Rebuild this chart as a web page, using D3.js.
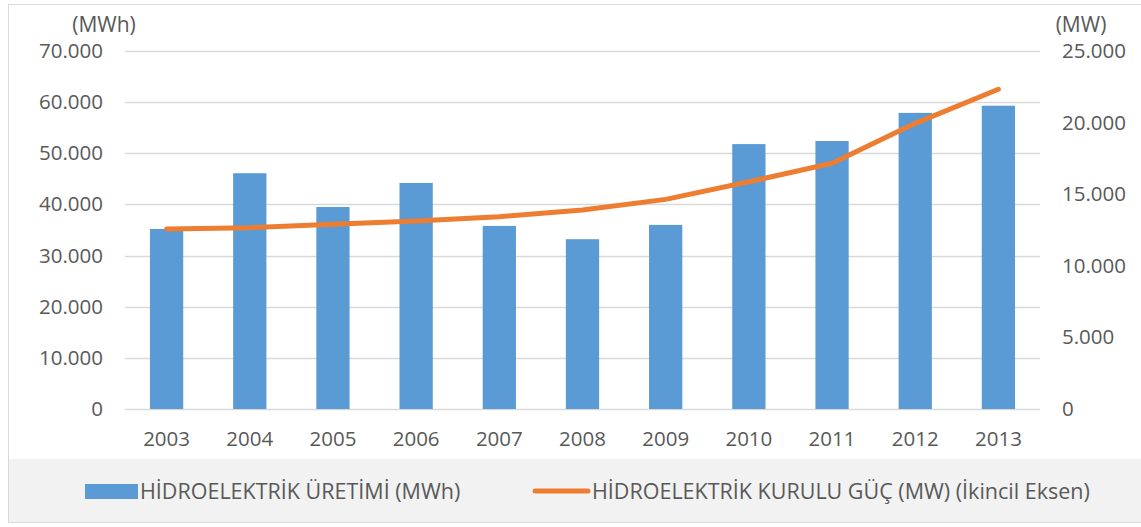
<!DOCTYPE html>
<html><head><meta charset="utf-8">
<script src="https://cdn.jsdelivr.net/npm/d3@7"></script>
<style>body{margin:0;background:#fff}svg{display:block;font-family:"Open Sans",sans-serif}</style>
</head><body><svg id="c" width="1141" height="527"></svg>
<script>
const years = ["2003","2004","2005","2006","2007","2008","2009","2010","2011","2012","2013"];
const production = [35200,46100,39500,44200,35800,33200,36000,51800,52400,57900,59300];
const capacity = [12570,12660,12900,13130,13430,13900,14640,15870,17160,19950,22330];
const leftTicks = [0,10000,20000,30000,40000,50000,60000,70000];
const rightTicks = [0,5000,10000,15000,20000,25000];
const seriesNames = ["HİDROELEKTRİK ÜRETİMİ (MWh)","HİDROELEKTRİK KURULU GÜÇ (MW) (İkincil Eksen)"];

const svg = d3.select("#c");
const m = {l:125, r:1040, t:51, b:409};
const fmt = v => v===0 ? "0" : d3.format(",")(v).replace(/,/g,".");
const x = d3.scaleBand().domain(years).range([m.l,m.r]).paddingInner(0.6).paddingOuter(0.3);
const yL = d3.scaleLinear().domain([0,70000]).range([m.b,m.t]);
const yR = d3.scaleLinear().domain([0,25000]).range([m.b,m.t]);
const textCol = "#595959";
const fs = "20.5px";

// frame and legend band
svg.append("rect").attr("x",8.5).attr("y",4.5).attr("width",1140).attr("height",518).attr("fill","#fff").attr("stroke","#d9d9d9");
svg.append("rect").attr("x",9).attr("y",459).attr("width",1132).attr("height",63).attr("fill","#f2f2f2");

// gridlines
svg.append("g").selectAll("line").data(leftTicks).join("line")
  .attr("x1",m.l).attr("x2",m.r).attr("y1",d=>Math.round(yL(d))+0.5).attr("y2",d=>Math.round(yL(d))+0.5)
  .attr("stroke","#d9d9d9").attr("stroke-width",1.5);

// left axis
const gl = svg.append("g").attr("transform",`translate(${m.l-22},0)`)
  .call(d3.axisLeft(yL).tickValues(leftTicks).tickFormat(fmt).tickSize(0).tickPadding(0));
gl.select(".domain").remove();
gl.selectAll("text").attr("fill",textCol).style("font-size",fs).style("font-family","'Open Sans',sans-serif");

// right axis
const gr = svg.append("g").attr("transform",`translate(${m.r+22},0)`)
  .call(d3.axisRight(yR).tickValues(rightTicks).tickFormat(fmt).tickSize(0).tickPadding(0));
gr.select(".domain").remove();
gr.selectAll("text").attr("fill",textCol).style("font-size",fs).style("font-family","'Open Sans',sans-serif");

// x axis
const gx = svg.append("g").attr("transform",`translate(0,${m.b})`)
  .call(d3.axisBottom(x).tickSize(0).tickPadding(22));
gx.select(".domain").remove();
gx.selectAll("text").attr("fill",textCol).style("font-size",fs).style("font-family","'Open Sans',sans-serif");

// axis titles
svg.append("text").attr("x",104).attr("y",32).attr("text-anchor","middle").attr("fill",textCol).style("font-size","21px").text("(MWh)");
svg.append("text").attr("x",1081).attr("y",32).attr("text-anchor","middle").attr("fill",textCol).style("font-size","21px").text("(MW)");

// bars
svg.append("g").selectAll("rect").data(years).join("rect")
  .attr("x",d=>x(d)).attr("width",x.bandwidth())
  .attr("y",(d,i)=>yL(production[i])).attr("height",(d,i)=>m.b-yL(production[i]))
  .attr("fill","#5b9bd5");

// line
const line = d3.line().x((d,i)=>x(years[i])+x.bandwidth()/2).y(d=>yR(d));
svg.append("path").datum(capacity).attr("d",line).attr("fill","none")
  .attr("stroke","#ed7d31").attr("stroke-width",5).attr("stroke-linecap","round").attr("stroke-linejoin","round");

// legend
const lg = svg.append("g");
lg.append("rect").attr("x",85).attr("y",484).attr("width",53).attr("height",15).attr("fill","#5b9bd5");
lg.append("text").attr("x",140).attr("y",499).attr("fill",textCol).style("font-size","21.5px").text(seriesNames[0]);
lg.append("line").attr("x1",535).attr("x2",588).attr("y1",491).attr("y2",491).attr("stroke","#ed7d31").attr("stroke-width",5).attr("stroke-linecap","round");
lg.append("text").attr("x",592).attr("y",499).attr("fill",textCol).style("font-size","21.5px").text(seriesNames[1]);
</script></body></html>
